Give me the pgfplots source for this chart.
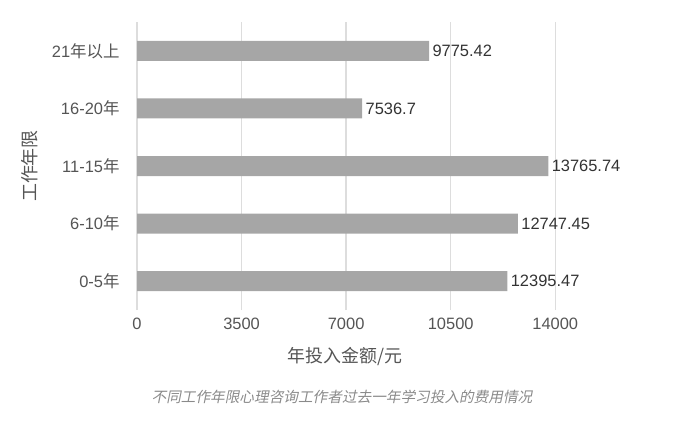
\documentclass[border=0pt]{standalone}
\usepackage{pgfplots}
\pgfplotsset{compat=1.18}
\usepackage{fontspec}
\setmainfont{Liberation Sans}
\newfontfamily\cjk{Noto Sans CJK SC}
\newfontfamily\cjkit[FakeSlant=0.2]{Noto Sans CJK SC}
\definecolor{barc}{HTML}{A6A6A6}
\definecolor{gridc}{HTML}{DDDDDD}
\definecolor{tickc}{HTML}{555555}
\definecolor{valc}{HTML}{333333}
\definecolor{capc}{HTML}{8A8A8A}
\begin{document}
\begin{tikzpicture}[x=1bp,y=1bp]
\useasboundingbox (0,0) rectangle (700,430);
\begin{axis}[
  at={(137bp,120bp)}, anchor=south west,
  scale only axis, width=504bp, height=288bp,
  xmin=0, xmax=16870, ymin=-0.5, ymax=4.5,
  xbar, bar width=20bp,
  axis line style={draw=none},
  major tick length=0pt,
  xmajorgrids, grid style={color=gridc, line width=1.5bp},
  xtick={0,3500,7000,10500,14000},
  scaled ticks=false,
  /pgf/number format/.cd, 1000 sep={}, assume math mode=true, /pgfplots/.cd,
  ytick={0,1,2,3,4},
  yticklabels={0-5{\cjk 年},6-10{\cjk 年},11-15{\cjk 年},16-20{\cjk 年},21{\cjk 年以上}},
  ticklabel style={font=\fontsize{16.5}{19}\selectfont, color=tickc},
  xticklabel style={yshift=-4.5bp},
  yticklabel style={xshift=-14bp},
  xlabel={\cjk 年投入金额/元},
  ylabel={\cjk 工作年限},
  label style={font=\fontsize{18}{21}\selectfont, color=tickc},
  xlabel style={at={(axis description cs:0.413,-0.163)}, anchor=center},
  ylabel style={at={(axis description cs:-0.212,0.5)}, anchor=center, rotate=0},
  nodes near coords,
  point meta=explicit symbolic,
  nodes near coords style={font=\fontsize{16.5}{19}\selectfont, color=valc, anchor=west, xshift=0bp},
]
\addplot[fill=barc, draw=none] coordinates {
  (12395.47,0) [12395.47]
  (12747.45,1) [12747.45]
  (13765.74,2) [13765.74]
  (7536.7,3) [7536.7]
  (9775.42,4) [9775.42]
};
\end{axis}
\node[font=\cjkit\fontsize{14.7}{18}\selectfont, color=capc] at (342,33) {不同工作年限心理咨询工作者过去一年学习投入的费用情况};
\end{tikzpicture}
\end{document}
